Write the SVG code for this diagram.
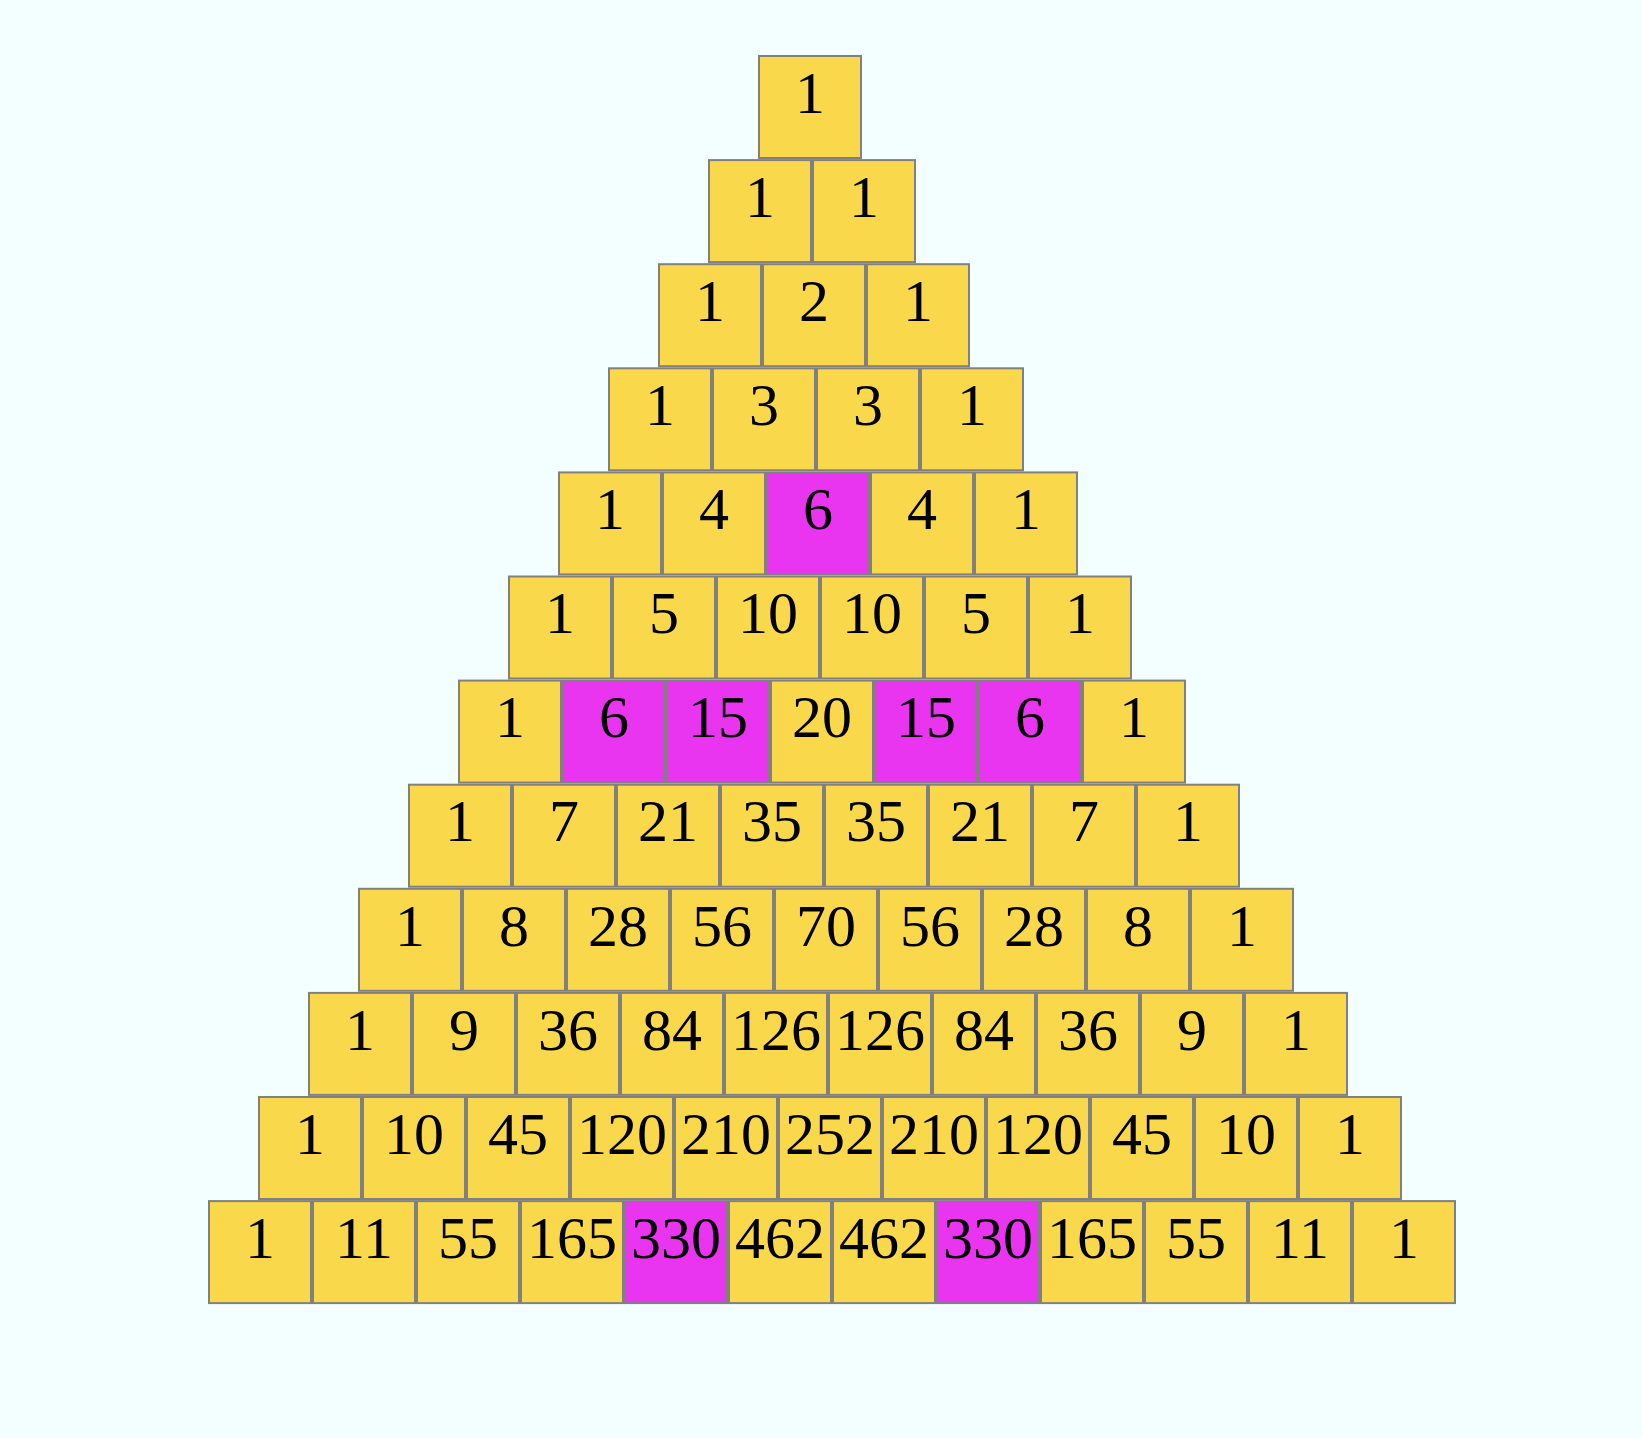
<svg xmlns="http://www.w3.org/2000/svg" width="1642" height="1438" viewBox="0 0 1642 1438">
<style>
.cell{fill:#F9D84B;stroke:#808080;stroke-width:2}
.hi{fill:#E934F0}
.t{font-family:"Liberation Serif","Times New Roman",serif;font-size:60px;text-anchor:middle;fill:#000}
</style>
<rect x="0" y="0" width="1642" height="1438" fill="#F2FFFE"/>
<g id="connectors"/>
<g id="nodes">
<g id="n0-0"><rect class="cell" x="759" y="56" width="102" height="102"/><text class="t" x="810" y="112.7">1</text></g>

<g id="n1-0"><rect class="cell" x="709" y="160.1" width="102" height="102"/><text class="t" x="760" y="216.8">1</text></g>
<g id="n1-1"><rect class="cell" x="813" y="160.1" width="102" height="102"/><text class="t" x="864" y="216.8">1</text></g>

<g id="n2-0"><rect class="cell" x="659" y="264.2" width="102" height="102"/><text class="t" x="710" y="320.9">1</text></g>
<g id="n2-1"><rect class="cell" x="763" y="264.2" width="102" height="102"/><text class="t" x="814" y="320.9">2</text></g>
<g id="n2-2"><rect class="cell" x="867" y="264.2" width="102" height="102"/><text class="t" x="918" y="320.9">1</text></g>

<g id="n3-0"><rect class="cell" x="609" y="368.3" width="102" height="102"/><text class="t" x="660" y="425">1</text></g>
<g id="n3-1"><rect class="cell" x="713" y="368.3" width="102" height="102"/><text class="t" x="764" y="425">3</text></g>
<g id="n3-2"><rect class="cell" x="817" y="368.3" width="102" height="102"/><text class="t" x="868" y="425">3</text></g>
<g id="n3-3"><rect class="cell" x="921" y="368.3" width="102" height="102"/><text class="t" x="972" y="425">1</text></g>

<g id="n4-0"><rect class="cell" x="559" y="472.4" width="102" height="102"/><text class="t" x="610" y="529.1">1</text></g>
<g id="n4-1"><rect class="cell" x="663" y="472.4" width="102" height="102"/><text class="t" x="714" y="529.1">4</text></g>
<g id="n4-2"><rect class="cell hi" x="767" y="472.4" width="102" height="102"/><text class="t" x="818" y="529.1">6</text></g>
<g id="n4-3"><rect class="cell" x="871" y="472.4" width="102" height="102"/><text class="t" x="922" y="529.1">4</text></g>
<g id="n4-4"><rect class="cell" x="975" y="472.4" width="102" height="102"/><text class="t" x="1026" y="529.1">1</text></g>

<g id="n5-0"><rect class="cell" x="509" y="576.5" width="102" height="102"/><text class="t" x="560" y="633.2">1</text></g>
<g id="n5-1"><rect class="cell" x="613" y="576.5" width="102" height="102"/><text class="t" x="664" y="633.2">5</text></g>
<g id="n5-2"><rect class="cell" x="717" y="576.5" width="102" height="102"/><text class="t" x="768" y="633.2">10</text></g>
<g id="n5-3"><rect class="cell" x="821" y="576.5" width="102" height="102"/><text class="t" x="872" y="633.2">10</text></g>
<g id="n5-4"><rect class="cell" x="925" y="576.5" width="102" height="102"/><text class="t" x="976" y="633.2">5</text></g>
<g id="n5-5"><rect class="cell" x="1029" y="576.5" width="102" height="102"/><text class="t" x="1080" y="633.2">1</text></g>

<g id="n6-0"><rect class="cell" x="459" y="680.6" width="102" height="102"/><text class="t" x="510" y="737.3">1</text></g>
<g id="n6-1"><rect class="cell hi" x="563" y="680.6" width="102" height="102"/><text class="t" x="614" y="737.3">6</text></g>
<g id="n6-2"><rect class="cell hi" x="667" y="680.6" width="102" height="102"/><text class="t" x="718" y="737.3">15</text></g>
<g id="n6-3"><rect class="cell" x="771" y="680.6" width="102" height="102"/><text class="t" x="822" y="737.3">20</text></g>
<g id="n6-4"><rect class="cell hi" x="875" y="680.6" width="102" height="102"/><text class="t" x="926" y="737.3">15</text></g>
<g id="n6-5"><rect class="cell hi" x="979" y="680.6" width="102" height="102"/><text class="t" x="1030" y="737.3">6</text></g>
<g id="n6-6"><rect class="cell" x="1083" y="680.6" width="102" height="102"/><text class="t" x="1134" y="737.3">1</text></g>

<g id="n7-0"><rect class="cell" x="409" y="784.7" width="102" height="102"/><text class="t" x="460" y="841.4">1</text></g>
<g id="n7-1"><rect class="cell" x="513" y="784.7" width="102" height="102"/><text class="t" x="564" y="841.4">7</text></g>
<g id="n7-2"><rect class="cell" x="617" y="784.7" width="102" height="102"/><text class="t" x="668" y="841.4">21</text></g>
<g id="n7-3"><rect class="cell" x="721" y="784.7" width="102" height="102"/><text class="t" x="772" y="841.4">35</text></g>
<g id="n7-4"><rect class="cell" x="825" y="784.7" width="102" height="102"/><text class="t" x="876" y="841.4">35</text></g>
<g id="n7-5"><rect class="cell" x="929" y="784.7" width="102" height="102"/><text class="t" x="980" y="841.4">21</text></g>
<g id="n7-6"><rect class="cell" x="1033" y="784.7" width="102" height="102"/><text class="t" x="1084" y="841.4">7</text></g>
<g id="n7-7"><rect class="cell" x="1137" y="784.7" width="102" height="102"/><text class="t" x="1188" y="841.4">1</text></g>

<g id="n8-0"><rect class="cell" x="359" y="888.8" width="102" height="102"/><text class="t" x="410" y="945.5">1</text></g>
<g id="n8-1"><rect class="cell" x="463" y="888.8" width="102" height="102"/><text class="t" x="514" y="945.5">8</text></g>
<g id="n8-2"><rect class="cell" x="567" y="888.8" width="102" height="102"/><text class="t" x="618" y="945.5">28</text></g>
<g id="n8-3"><rect class="cell" x="671" y="888.8" width="102" height="102"/><text class="t" x="722" y="945.5">56</text></g>
<g id="n8-4"><rect class="cell" x="775" y="888.8" width="102" height="102"/><text class="t" x="826" y="945.5">70</text></g>
<g id="n8-5"><rect class="cell" x="879" y="888.8" width="102" height="102"/><text class="t" x="930" y="945.5">56</text></g>
<g id="n8-6"><rect class="cell" x="983" y="888.8" width="102" height="102"/><text class="t" x="1034" y="945.5">28</text></g>
<g id="n8-7"><rect class="cell" x="1087" y="888.8" width="102" height="102"/><text class="t" x="1138" y="945.5">8</text></g>
<g id="n8-8"><rect class="cell" x="1191" y="888.8" width="102" height="102"/><text class="t" x="1242" y="945.5">1</text></g>

<g id="n9-0"><rect class="cell" x="309" y="992.9" width="102" height="102"/><text class="t" x="360" y="1049.6">1</text></g>
<g id="n9-1"><rect class="cell" x="413" y="992.9" width="102" height="102"/><text class="t" x="464" y="1049.6">9</text></g>
<g id="n9-2"><rect class="cell" x="517" y="992.9" width="102" height="102"/><text class="t" x="568" y="1049.6">36</text></g>
<g id="n9-3"><rect class="cell" x="621" y="992.9" width="102" height="102"/><text class="t" x="672" y="1049.6">84</text></g>
<g id="n9-4"><rect class="cell" x="725" y="992.9" width="102" height="102"/><text class="t" x="776" y="1049.6">126</text></g>
<g id="n9-5"><rect class="cell" x="829" y="992.9" width="102" height="102"/><text class="t" x="880" y="1049.6">126</text></g>
<g id="n9-6"><rect class="cell" x="933" y="992.9" width="102" height="102"/><text class="t" x="984" y="1049.6">84</text></g>
<g id="n9-7"><rect class="cell" x="1037" y="992.9" width="102" height="102"/><text class="t" x="1088" y="1049.6">36</text></g>
<g id="n9-8"><rect class="cell" x="1141" y="992.9" width="102" height="102"/><text class="t" x="1192" y="1049.6">9</text></g>
<g id="n9-9"><rect class="cell" x="1245" y="992.9" width="102" height="102"/><text class="t" x="1296" y="1049.6">1</text></g>

<g id="n10-0"><rect class="cell" x="259" y="1097" width="102" height="102"/><text class="t" x="310" y="1153.7">1</text></g>
<g id="n10-1"><rect class="cell" x="363" y="1097" width="102" height="102"/><text class="t" x="414" y="1153.7">10</text></g>
<g id="n10-2"><rect class="cell" x="467" y="1097" width="102" height="102"/><text class="t" x="518" y="1153.7">45</text></g>
<g id="n10-3"><rect class="cell" x="571" y="1097" width="102" height="102"/><text class="t" x="622" y="1153.7">120</text></g>
<g id="n10-4"><rect class="cell" x="675" y="1097" width="102" height="102"/><text class="t" x="726" y="1153.7">210</text></g>
<g id="n10-5"><rect class="cell" x="779" y="1097" width="102" height="102"/><text class="t" x="830" y="1153.7">252</text></g>
<g id="n10-6"><rect class="cell" x="883" y="1097" width="102" height="102"/><text class="t" x="934" y="1153.7">210</text></g>
<g id="n10-7"><rect class="cell" x="987" y="1097" width="102" height="102"/><text class="t" x="1038" y="1153.7">120</text></g>
<g id="n10-8"><rect class="cell" x="1091" y="1097" width="102" height="102"/><text class="t" x="1142" y="1153.7">45</text></g>
<g id="n10-9"><rect class="cell" x="1195" y="1097" width="102" height="102"/><text class="t" x="1246" y="1153.7">10</text></g>
<g id="n10-10"><rect class="cell" x="1299" y="1097" width="102" height="102"/><text class="t" x="1350" y="1153.7">1</text></g>

<g id="n11-0"><rect class="cell" x="209" y="1201.1" width="102" height="102"/><text class="t" x="260" y="1257.8">1</text></g>
<g id="n11-1"><rect class="cell" x="313" y="1201.1" width="102" height="102"/><text class="t" x="364" y="1257.8">11</text></g>
<g id="n11-2"><rect class="cell" x="417" y="1201.1" width="102" height="102"/><text class="t" x="468" y="1257.8">55</text></g>
<g id="n11-3"><rect class="cell" x="521" y="1201.1" width="102" height="102"/><text class="t" x="572" y="1257.8">165</text></g>
<g id="n11-4"><rect class="cell hi" x="625" y="1201.1" width="102" height="102"/><text class="t" x="676" y="1257.8">330</text></g>
<g id="n11-5"><rect class="cell" x="729" y="1201.1" width="102" height="102"/><text class="t" x="780" y="1257.8">462</text></g>
<g id="n11-6"><rect class="cell" x="833" y="1201.1" width="102" height="102"/><text class="t" x="884" y="1257.8">462</text></g>
<g id="n11-7"><rect class="cell hi" x="937" y="1201.1" width="102" height="102"/><text class="t" x="988" y="1257.8">330</text></g>
<g id="n11-8"><rect class="cell" x="1041" y="1201.1" width="102" height="102"/><text class="t" x="1092" y="1257.8">165</text></g>
<g id="n11-9"><rect class="cell" x="1145" y="1201.1" width="102" height="102"/><text class="t" x="1196" y="1257.8">55</text></g>
<g id="n11-10"><rect class="cell" x="1249" y="1201.1" width="102" height="102"/><text class="t" x="1300" y="1257.8">11</text></g>
<g id="n11-11"><rect class="cell" x="1353" y="1201.1" width="102" height="102"/><text class="t" x="1404" y="1257.8">1</text></g>
</g>
</svg>
